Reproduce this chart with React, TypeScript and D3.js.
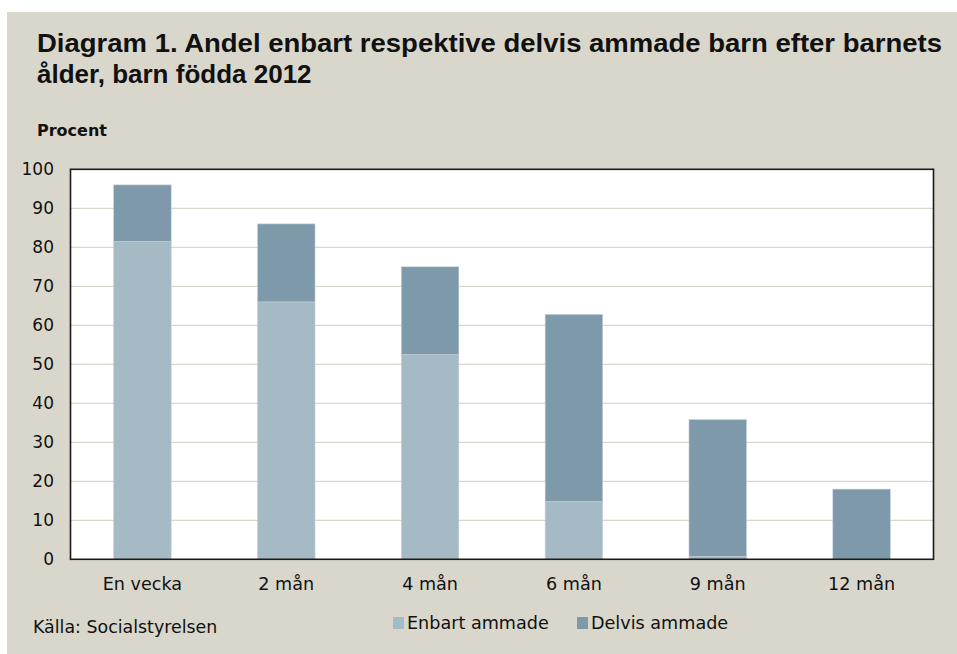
import React from "react";
import * as d3 from "d3";

const categories = ["En vecka", "2 mån", "4 mån", "6 mån", "9 mån", "12 mån"];
const enbart = [81.5, 66, 52.5, 14.8, 0.7, 0];
const delvis = [14.5, 20, 22.5, 48, 35.1, 18];
const yTicks = [0, 10, 20, 30, 40, 50, 60, 70, 80, 90, 100];
const seriesNames = ["Enbart ammade", "Delvis ammade"];
const colors = ["#A6BAC5", "#7D99AA"];

const W = 957;
const H = 654;
const L = 70.5, R = 933.5, T = 169.3, B = 559.3;

export default function App() {
  const x = d3.scaleBand<string>().domain(categories).range([L, R]).paddingInner(0.6).paddingOuter(0.3);
  const y = d3.scaleLinear().domain([0, 100]).range([B, T]);
  const stack = d3.stack<number>().keys([0, 1]).value((i, k) => (k === 0 ? enbart[i] : delvis[i]));
  const series = stack(categories.map((_, i) => i));
  const font = "'DejaVu Sans', sans-serif";
  return (
    <svg width={W} height={H} style={{ position: "absolute", left: 0, top: 0 }} fontFamily={font}>
      <rect x={0} y={0} width={W} height={H} fill="#fff" />
      <rect x={7} y={12} width={W - 7} height={H - 12} fill="#D9D7CB" />
      <text x={37} y={52} fontFamily="'Liberation Sans', Arial, sans-serif" fontWeight="bold" fontSize={26} fill="#111" textLength={905} lengthAdjust="spacingAndGlyphs">
        Diagram 1. Andel enbart respektive delvis ammade barn efter barnets
      </text>
      <text x={37} y={83} fontFamily="'Liberation Sans', Arial, sans-serif" fontWeight="bold" fontSize={26} fill="#111">
        ålder, barn födda 2012
      </text>
      <text x={37} y={136} fontWeight="bold" fontSize={16} fill="#111">Procent</text>
      <rect x={L} y={T} width={R - L} height={B - T} fill="#fff" />
      {yTicks.filter((t) => t > 0 && t < 100).map((t) => (
        <line key={t} x1={L} x2={R} y1={y(t)} y2={y(t)} stroke="#D9D7CB" strokeWidth={1.2} />
      ))}
      {series.map((s, si) =>
        s.map((d, i) =>
          d[1] - d[0] > 0 ? (
            <rect
              key={`${si}-${i}`}
              x={x(categories[i])}
              y={y(d[1])}
              width={x.bandwidth()}
              height={y(d[0]) - y(d[1])}
              fill={colors[si]}
              stroke="#C3D1DA"
              strokeWidth={0.6}
            />
          ) : null
        )
      )}
      <rect x={L} y={T} width={R - L} height={B - T} fill="none" stroke="#1a1a1a" strokeWidth={1.6} />
      {yTicks.map((t) => (
        <text key={t} x={54} y={y(t)} dy="0.36em" textAnchor="end" fontSize={17} fill="#111">{t}</text>
      ))}
      {categories.map((c) => (
        <text key={c} x={(x(c) as number) + x.bandwidth() / 2} y={590} textAnchor="middle" fontSize={17.6} fill="#111">{c}</text>
      ))}
      <text x={33} y={633} fontSize={17.4} fill="#111">Källa: Socialstyrelsen</text>
      {seriesNames.map((n, i) => {
        const lx = i === 0 ? 393 : 577;
        return (
          <g key={n}>
            <rect x={lx} y={617} width={11} height={12} fill={colors[i]} />
            <text x={lx + 14} y={629} fontSize={17.6} fill="#111">{n}</text>
          </g>
        );
      })}
    </svg>
  );
}
